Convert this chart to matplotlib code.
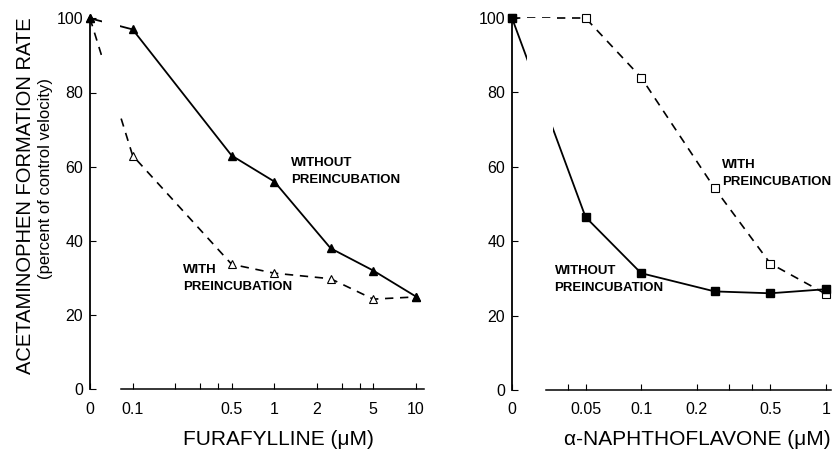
import numpy as np
import matplotlib
matplotlib.use("Agg")
import matplotlib.pyplot as plt
from matplotlib.ticker import FixedLocator, FixedFormatter, NullFormatter

plt.rcParams['font.family'] = ['Liberation Sans', 'DejaVu Sans']

# ---------------- data ----------------
# Left panel: furafylline (uM)
fura_conc = [0, 0.1, 0.5, 1, 2.5, 5, 10]
fura_without = [100, 97, 63, 56, 38, 32, 25]
fura_with = [100, 63, 33.7, 31.3, 29.8, 24.3, 24.9]
fura_major = [0, 0.1, 0.5, 1, 2, 5, 10]
fura_major_labels = ['0', '0.1', '0.5', '1', '2', '5', '10']
fura_minor = [0.2, 0.3, 0.4, 3, 4]

# Right panel: alpha-naphthoflavone (uM)
anf_conc = [0, 0.05, 0.1, 0.25, 0.5, 1]
anf_without = [100, 46.5, 31.4, 26.5, 26.0, 27.1]
anf_with = [100, 100, 84, 54.2, 34.0, 25.8]
anf_major = [0, 0.05, 0.1, 0.2, 0.5, 1]
anf_major_labels = ['0', '0.05', '0.1', '0.2', '0.5', '1']
anf_minor = [0.04, 0.3, 0.4]

y_ticks = [0, 20, 40, 60, 80, 100]


def broken_log(zero_at):
    z = np.log10(zero_at)

    def fwd(x):
        x = np.asarray(x, dtype=float)
        safe = np.where(x > 0, x, 1.0)
        return np.where(x > 0, np.log10(safe), z)

    def inv(y):
        return 10.0 ** np.asarray(y, dtype=float)
    return fwd, inv


fig = plt.figure(figsize=(8.32, 4.5), dpi=100)
W, H = 832.0, 450.0
axL = fig.add_axes([90 / W, 1 - 389.3 / H, (424 - 90) / W, 371 / H])
axR = fig.add_axes([512 / W, 1 - 390 / H, (831 - 512) / W, 372 / H])


def style(ax, zero_at, xmax, spine_start, gap, major, labels, minor):
    ax.set_xscale('function', functions=broken_log(zero_at))
    ax.set_xlim(0, xmax)
    ax.set_ylim(0, 100)
    for s in ['top', 'right']:
        ax.spines[s].set_visible(False)
    ax.spines['left'].set_linewidth(1.3)
    ax.spines['bottom'].set_linewidth(1.1)
    ax.spines['bottom'].set_bounds(spine_start, xmax)
    ax.xaxis.set_major_locator(FixedLocator(major))
    ax.xaxis.set_major_formatter(FixedFormatter(labels))
    ax.xaxis.set_minor_locator(FixedLocator(minor))
    ax.xaxis.set_minor_formatter(NullFormatter())
    ax.set_yticks(y_ticks)
    ax.tick_params(axis='both', which='both', direction='in', length=4,
                   width=0.8, labelsize=11.5, colors='black')
    ax.tick_params(axis='x', which='both', pad=9)
    ax.tick_params(axis='y', pad=5)
    ax.axvspan(gap[0], gap[1], color='white', zorder=2.5, lw=0)


style(axL, 0.05, 11.4, 0.083, (0.0604, 0.081), fura_major, fura_major_labels, fura_minor)
style(axR, 0.02, 1.065, 0.0306, (0.0242, 0.0335), anf_major, anf_major_labels, anf_minor)

# left panel series
axL.plot(fura_conc, fura_with, color='black', lw=1.2, ls=(0, (5, 4)),
         marker='^', ms=6, mfc='white', mec='black', mew=0.8, clip_on=False, zorder=2)
axL.plot(fura_conc, fura_without, color='black', lw=1.3, ls='-',
         marker='^', ms=6, mfc='black', mec='black', clip_on=False, zorder=2.2)

# right panel series
axR.plot(anf_conc, anf_with, color='black', lw=1.2, ls=(0, (5, 4)),
         marker='s', ms=5.5, mfc='white', mec='black', mew=0.8, clip_on=False, zorder=2)
axR.plot(anf_conc, anf_without, color='black', lw=1.3, ls='-',
         marker='s', ms=5.5, mfc='black', mec='black', clip_on=False, zorder=2.2)

tkw = dict(fontsize=9.5, fontweight='bold', va='top', ha='left', linespacing=1.55)
axL.text(1.31, 62.5, 'WITHOUT\nPREINCUBATION', **tkw)
axL.text(0.228, 33.7, 'WITH\nPREINCUBATION', **tkw)
axR.text(0.275, 62.2, 'WITH\nPREINCUBATION', **tkw)
axR.text(0.034, 33.5, 'WITHOUT\nPREINCUBATION', **tkw)

fig.text(278 / W, 1 - 445 / H, 'FURAFYLLINE (\u03bcM)', fontsize=15,
         ha='center', va='baseline')
fig.text(697 / W, 1 - 445 / H, '\u03b1-NAPHTHOFLAVONE (\u03bcM)', fontsize=15,
         ha='center', va='baseline')
fig.text(26 / W, 1 - 196 / H, 'ACETAMINOPHEN FORMATION RATE', fontsize=14.5,
         rotation=90, ha='center', va='center')
fig.text(46 / W, 1 - 178.5 / H, '(percent of control velocity)', fontsize=12,
         rotation=90, ha='center', va='center')

fig.savefig('out.png', dpi=100)
